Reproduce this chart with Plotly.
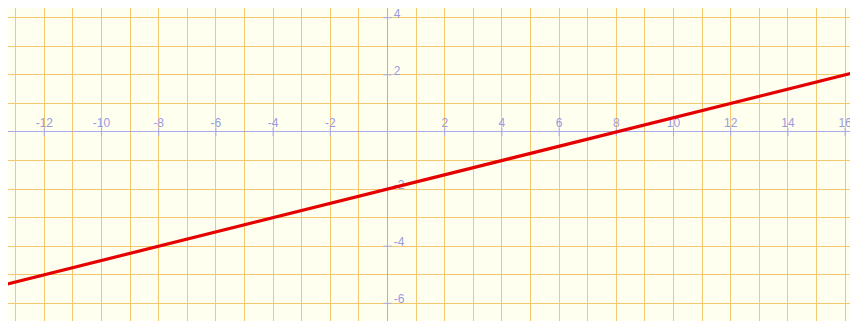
"""Graph paper plot of the line y = x/4 - 2."""

import plotly.graph_objects as go

# values
x_range = [-13.27, 16.73]
y_range = [-6.9, 4.34]
x_labels = [-12, -10, -8, -6, -4, -2, 2, 4, 6, 8, 10, 12, 14, 16]
y_labels = [4, 2, -2, -4, -6]
line_x = [-14, 0, 8, 17]
line_y = [-5.5, -2, 0, 2.25]

GRID = "#f3c86e"
AXIS = "#aaaaee"
LABEL = "#9a9ade"
BG = "#fffff0"
FONT = dict(family="Liberation Sans, Arial", size=12, color=LABEL)

fig = go.Figure()

# tick marks on the axes
fig.add_trace(go.Scatter(
    x=x_labels, y=[0] * len(x_labels), mode="markers",
    marker=dict(symbol="line-ns", size=6, line=dict(color=AXIS, width=1)),
    hoverinfo="skip",
))
fig.add_trace(go.Scatter(
    x=[0] * len(y_labels), y=y_labels, mode="markers",
    marker=dict(symbol="line-ew", size=6, line=dict(color=AXIS, width=1)),
    hoverinfo="skip",
))

# tick labels, drawn under the line
fig.add_trace(go.Scatter(
    x=x_labels, y=[0.08] * len(x_labels), mode="text",
    text=[str(v) for v in x_labels], textposition="top center",
    textfont=FONT, hoverinfo="skip",
))
fig.add_trace(go.Scatter(
    x=[0.22] * len(y_labels), y=[v + 0.1 for v in y_labels], mode="text",
    text=[str(v) for v in y_labels], textposition="middle right",
    textfont=FONT, hoverinfo="skip",
))

fig.add_trace(go.Scatter(
    x=line_x, y=line_y, mode="lines",
    line=dict(color="#e50000", width=3.2),
))

axis_style = dict(
    showgrid=True, gridcolor=GRID, gridwidth=1.2, dtick=1,
    zeroline=True, zerolinecolor=AXIS, zerolinewidth=1,
    showticklabels=False, ticks="", showline=False, fixedrange=True,
)
fig.update_xaxes(range=x_range, tick0=0, **axis_style)
fig.update_yaxes(range=y_range, tick0=0, **axis_style)

fig.update_layout(
    width=858, height=321,
    margin=dict(l=0, r=0, t=0, b=0),
    paper_bgcolor="white", plot_bgcolor=BG,
    showlegend=False,
)

fig.write_html("out.html")
